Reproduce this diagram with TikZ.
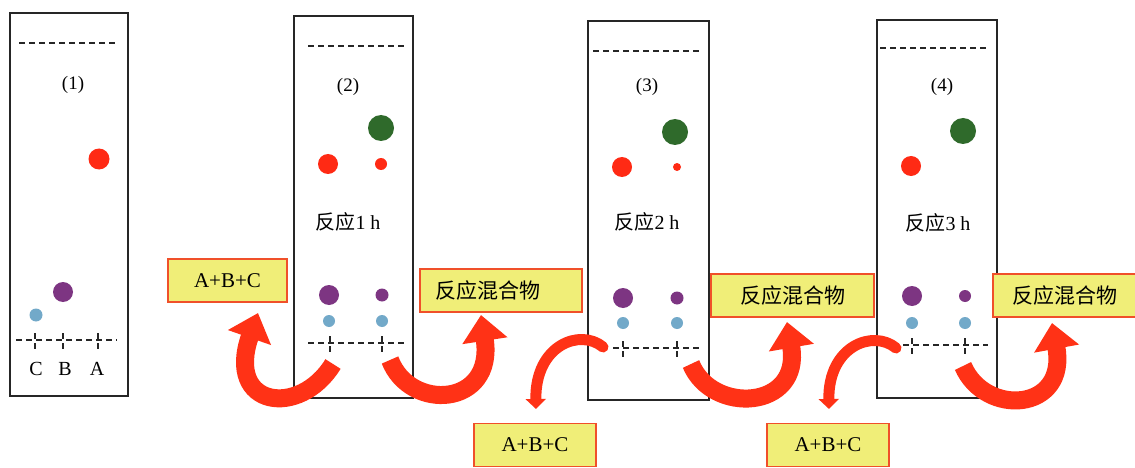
\documentclass[tikz,border=0pt]{standalone}
\usepackage{fontspec}
\setmainfont{Liberation Serif}
\newfontfamily\cjk{Noto Sans CJK SC}
\usetikzlibrary{arrows.meta}
\definecolor{spotred}{HTML}{FF2A14}
\definecolor{spotgreen}{HTML}{2F6A2B}
\definecolor{spotpurple}{HTML}{7D3582}
\definecolor{spotblue}{HTML}{72A9C9}
\definecolor{boxfill}{HTML}{F0EE78}
\definecolor{boxline}{HTML}{F0502A}
\definecolor{arrowred}{HTML}{FF3216}
\begin{document}
\begin{tikzpicture}[x=1pt,y=-1pt,
  plate/.style={draw=black!85, line width=1.4pt, inner sep=0pt},
  dline/.style={draw=black!85, line width=1.4pt, dash pattern=on 6pt off 4pt},
  tickline/.style={draw=black!85, line width=1.4pt, dash pattern=on 6pt off 4pt},
  spot/.style={circle, inner sep=0pt, minimum size=#1},
  lbl/.style={font=\fontsize{19}{22}\selectfont, inner sep=0pt},
  tlc/.style={font=\fontsize{20}{24}\selectfont, inner sep=0pt},
  lab/.style={draw=boxline, fill=boxfill, line width=1.3pt, inner sep=0pt,
    minimum height=43pt, font=\fontsize{21}{25}\selectfont},
  bigarrow/.style={draw=arrowred, line width=18pt,
    -{Triangle[width=44pt,length=26pt]}},
  smallarrow/.style={draw=arrowred, line width=11pt, line cap=round,
    -{Triangle[width=20pt,length=10pt]}}
]
\clip (0,0) rectangle (1135,468);
\fill[white] (0,0) rectangle (1135,468);

% ---------- plate 1 ----------
\node[plate, minimum width=118pt, minimum height=383pt] (p1) at (69,204.5) {};
\draw[dline] (19,43) -- (115,43);
\node[lbl] (n1) at (73,85) {(1)};
\node[spot=21pt, fill=spotred] (p1a) at (99,159) {};
\node[spot=20pt, fill=spotpurple] (p1b) at (63,292) {};
\node[spot=13pt, fill=spotblue] (p1c) at (36,315) {};
\draw[dline] (16,340) -- (117,340);
\foreach \x in {35,63,98} \draw[tickline] (\x,333) -- (\x,352);
\node[tlc] (lc) at (36,369) {C};
\node[tlc] (lb) at (65,369) {B};
\node[tlc] (la) at (97,369) {A};

% ---------- plate 2 ----------
\node[plate, minimum width=119pt, minimum height=382pt] (p2) at (353.5,207) {};
\draw[dline] (308,46) -- (406,46);
\node[lbl] (n2) at (348,87) {(2)};
\node[spot=26pt, fill=spotgreen] (p2g) at (381,128) {};
\node[spot=20pt, fill=spotred] (p2r1) at (328,164) {};
\node[spot=12pt, fill=spotred] (p2r2) at (381,164) {};
\node[tlc] (t2) at (348,222) {{\cjk 反应}1 h};
\node[spot=20pt, fill=spotpurple] (p2p1) at (329,295) {};
\node[spot=13pt, fill=spotpurple] (p2p2) at (382,295) {};
\node[spot=12pt, fill=spotblue] (p2b1) at (329,321) {};
\node[spot=12pt, fill=spotblue] (p2b2) at (382,321) {};
\draw[dline] (308,343) -- (405,343);
\foreach \x in {330,382} \draw[tickline] (\x,336) -- (\x,352);

% ---------- plate 3 ----------
\node[plate, minimum width=121pt, minimum height=379pt] (p3) at (648.5,210.5) {};
\draw[dline] (593,51) -- (699,51);
\node[lbl] (n3) at (647,87) {(3)};
\node[spot=26pt, fill=spotgreen] (p3g) at (675,132) {};
\node[spot=20pt, fill=spotred] (p3r1) at (622,167) {};
\node[spot=8pt, fill=spotred] (p3r2) at (677,167) {};
\node[tlc] (t3) at (647,222) {{\cjk 反应}2 h};
\node[spot=20pt, fill=spotpurple] (p3p1) at (623,298) {};
\node[spot=13pt, fill=spotpurple] (p3p2) at (677,298) {};
\node[spot=12pt, fill=spotblue] (p3b1) at (623,323) {};
\node[spot=12pt, fill=spotblue] (p3b2) at (677,323) {};
\draw[dline] (613,348) -- (700,348);
\foreach \x in {623,677} \draw[tickline] (\x,341) -- (\x,357);

% ---------- plate 4 ----------
\node[plate, minimum width=120pt, minimum height=378pt] (p4) at (937,209) {};
\draw[dline] (880,48) -- (988,48);
\node[lbl] (n4) at (942,87) {(4)};
\node[spot=26pt, fill=spotgreen] (p4g) at (963,131) {};
\node[spot=20pt, fill=spotred] (p4r1) at (911,166) {};
\node[tlc] (t4) at (938,223) {{\cjk 反应}3 h};
\node[spot=20pt, fill=spotpurple] (p4p1) at (912,296) {};
\node[spot=12pt, fill=spotpurple] (p4p2) at (965,296) {};
\node[spot=12pt, fill=spotblue] (p4b1) at (912,323) {};
\node[spot=12pt, fill=spotblue] (p4b2) at (965,323) {};
\draw[dline] (903,345) -- (988,345);
\foreach \x in {912,965} \draw[tickline] (\x,338) -- (\x,354);

% ---------- label boxes ----------
\node[lab, minimum width=119pt] (b1) at (227.5,280.5) {A+B+C};
\node[lab, minimum width=162pt, text width=132pt, align=left, inner xsep=15pt]
  (m1) at (501,290.5) {\cjk 反应混合物};
\node[lab, minimum width=122pt] (b2) at (535,445) {A+B+C};
\node[lab, minimum width=163pt] (m2) at (792.5,295.5) {\cjk 反应混合物};
\node[lab, minimum width=122pt] (b3) at (828,445) {A+B+C};
\node[lab, minimum width=144pt] (m3) at (1065,295.5) {\cjk 反应混合物};

% ---------- arrows ----------
\coordinate (a1s) at (333,364);
\coordinate (a1e) at (258,313);
\coordinate (a2s) at (390,360);
\coordinate (a2e) at (481,315);
\coordinate (a3s) at (603,347);
\coordinate (a3e) at (536,409);
\coordinate (a4s) at (691,364);
\coordinate (a4e) at (787,322);
\coordinate (a5s) at (896,348);
\coordinate (a5e) at (829,409);
\coordinate (a6s) at (963,366);
\coordinate (a6e) at (1052,323);

\draw[bigarrow] (a1s) .. controls (300,418) and (225,408) .. (a1e);
\draw[bigarrow] (a2s) .. controls (410,412) and (495,407) .. (a2e);
\draw[smallarrow] (a3s) .. controls (580,328) and (535,345) .. (a3e);
\draw[bigarrow] (a4s) .. controls (712,415) and (802,410) .. (a4e);
\draw[smallarrow] (a5s) .. controls (873,329) and (828,346) .. (a5e);
\draw[bigarrow] (a6s) .. controls (985,417) and (1068,412) .. (a6e);
\end{tikzpicture}
\end{document}
